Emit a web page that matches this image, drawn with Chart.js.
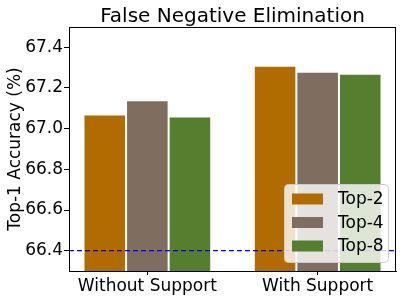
<!DOCTYPE html>
<html>
<head>
<meta charset="utf-8">
<script src="https://cdn.jsdelivr.net/npm/chart.js@4/dist/chart.umd.min.js"></script>
<style>
  body { margin: 0; background: #fff; }
  canvas { display: block; }
</style>
</head>
<body>
<canvas id="chart" width="403" height="300"></canvas>
<script>
// data
const categories = ['Without Support', 'With Support'];
const seriesNames = ['Top-2', 'Top-4', 'Top-8'];
const top2 = [67.07, 67.31];
const top4 = [67.14, 67.28];
const top8 = [67.06, 67.27];
const yTicks = [66.4, 66.6, 66.8, 67.0, 67.2, 67.4];
const baseline = 66.4;

const colors = ['#b06c00', '#7f6e5f', '#557f2e'];
const font = "'DejaVu Sans', sans-serif";

// title, frame, dashed line and legend
const extras = {
    id: 'extras',
    afterDatasetsDraw(chart) {
        const ctx = chart.ctx;
        const area = chart.chartArea;
        const y = chart.scales.y.getPixelForValue(baseline);

        ctx.save();
        ctx.strokeStyle = '#0000ff';
        ctx.lineWidth = 1.3;
        ctx.setLineDash([5, 3]);
        ctx.beginPath();
        ctx.moveTo(area.left, y);
        ctx.lineTo(area.right, y);
        ctx.stroke();
        ctx.setLineDash([]);

        // box around plot
        ctx.strokeStyle = '#000';
        ctx.lineWidth = 1;
        ctx.strokeRect(area.left + 0.5, area.top + 0.5, area.right - area.left - 1, area.bottom - area.top);

        // title
        ctx.fillStyle = '#000';
        ctx.font = '20px ' + font;
        ctx.textAlign = 'center';
        ctx.textBaseline = 'alphabetic';
        ctx.fillText('False Negative Elimination', (area.left + area.right) / 2, 22);

        // legend
        const w = 104, h = 78;
        const bx = area.right - 8 - w, by = area.bottom - 9 - h;
        ctx.fillStyle = 'rgba(255,255,255,0.8)';
        ctx.strokeStyle = '#cccccc';
        ctx.beginPath();
        ctx.roundRect(bx + 0.5, by + 0.5, w, h, 4);
        ctx.fill();
        ctx.stroke();
        ctx.font = '17px ' + font;
        ctx.textAlign = 'left';
        ctx.textBaseline = 'middle';
        chart.data.datasets.forEach((ds, i) => {
            const cy = by + 15 + i * 23.5;
            ctx.fillStyle = ds.backgroundColor;
            ctx.fillRect(bx + 8, cy - 5.5, 31, 11);
            ctx.fillStyle = '#000';
            ctx.fillText(ds.label, bx + 54, cy + 1);
        });
        ctx.restore();
    }
};

new Chart(document.getElementById('chart'), {
    type: 'bar',
    data: {
        datasets: [top2, top4, top8].map((vals, i) => ({
            label: seriesNames[i],
            data: vals.map((v, j) => ({ x: j, y: v })),
            backgroundColor: colors[i],
            borderColor: 'rgba(255,255,255,0.6)',
            borderWidth: 1,
            borderSkipped: false,
            categoryPercentage: 0.75,
            barPercentage: 1.0
        }))
    },
    options: {
        responsive: false,
        animation: false,
        layout: { padding: { top: 27, right: 7, left: 0, bottom: 0 } },
        plugins: {
            legend: { display: false },
            title: { display: false },
            tooltip: { enabled: false }
        },
        scales: {
            x: {
                type: 'linear',
                offset: false,
                min: -0.46,
                max: 1.46,
                afterBuildTicks(scale) { scale.ticks = categories.map((c, j) => ({ value: j })); },
                grid: { display: true, drawOnChartArea: false, offset: false, color: '#000', tickLength: 4 },
                border: { display: true, color: '#000' },
                ticks: {
                    color: '#000',
                    font: { family: font, size: 17 },
                    padding: 1,
                    maxRotation: 0,
                    callback: v => categories[v]
                },
                afterFit(scale) { scale.height = 29; }
            },
            y: {
                min: 66.3,
                max: 67.5,
                afterBuildTicks(scale) { scale.ticks = yTicks.map(v => ({ value: v })); },
                grid: { display: true, drawOnChartArea: false, color: '#000', tickLength: 5 },
                border: { display: true, color: '#000' },
                ticks: {
                    color: '#000',
                    font: { family: font, size: 17 },
                    padding: 1,
                    callback: v => v.toFixed(1)
                },
                title: {
                    display: true,
                    text: 'Top-1 Accuracy (%)',
                    color: '#000',
                    font: { family: font, size: 17 },
                    padding: { top: 5, bottom: 0 }
                },
                afterFit(scale) { scale.width = 69; }
            }
        }
    },
    plugins: [extras]
});
</script>
</body>
</html>
